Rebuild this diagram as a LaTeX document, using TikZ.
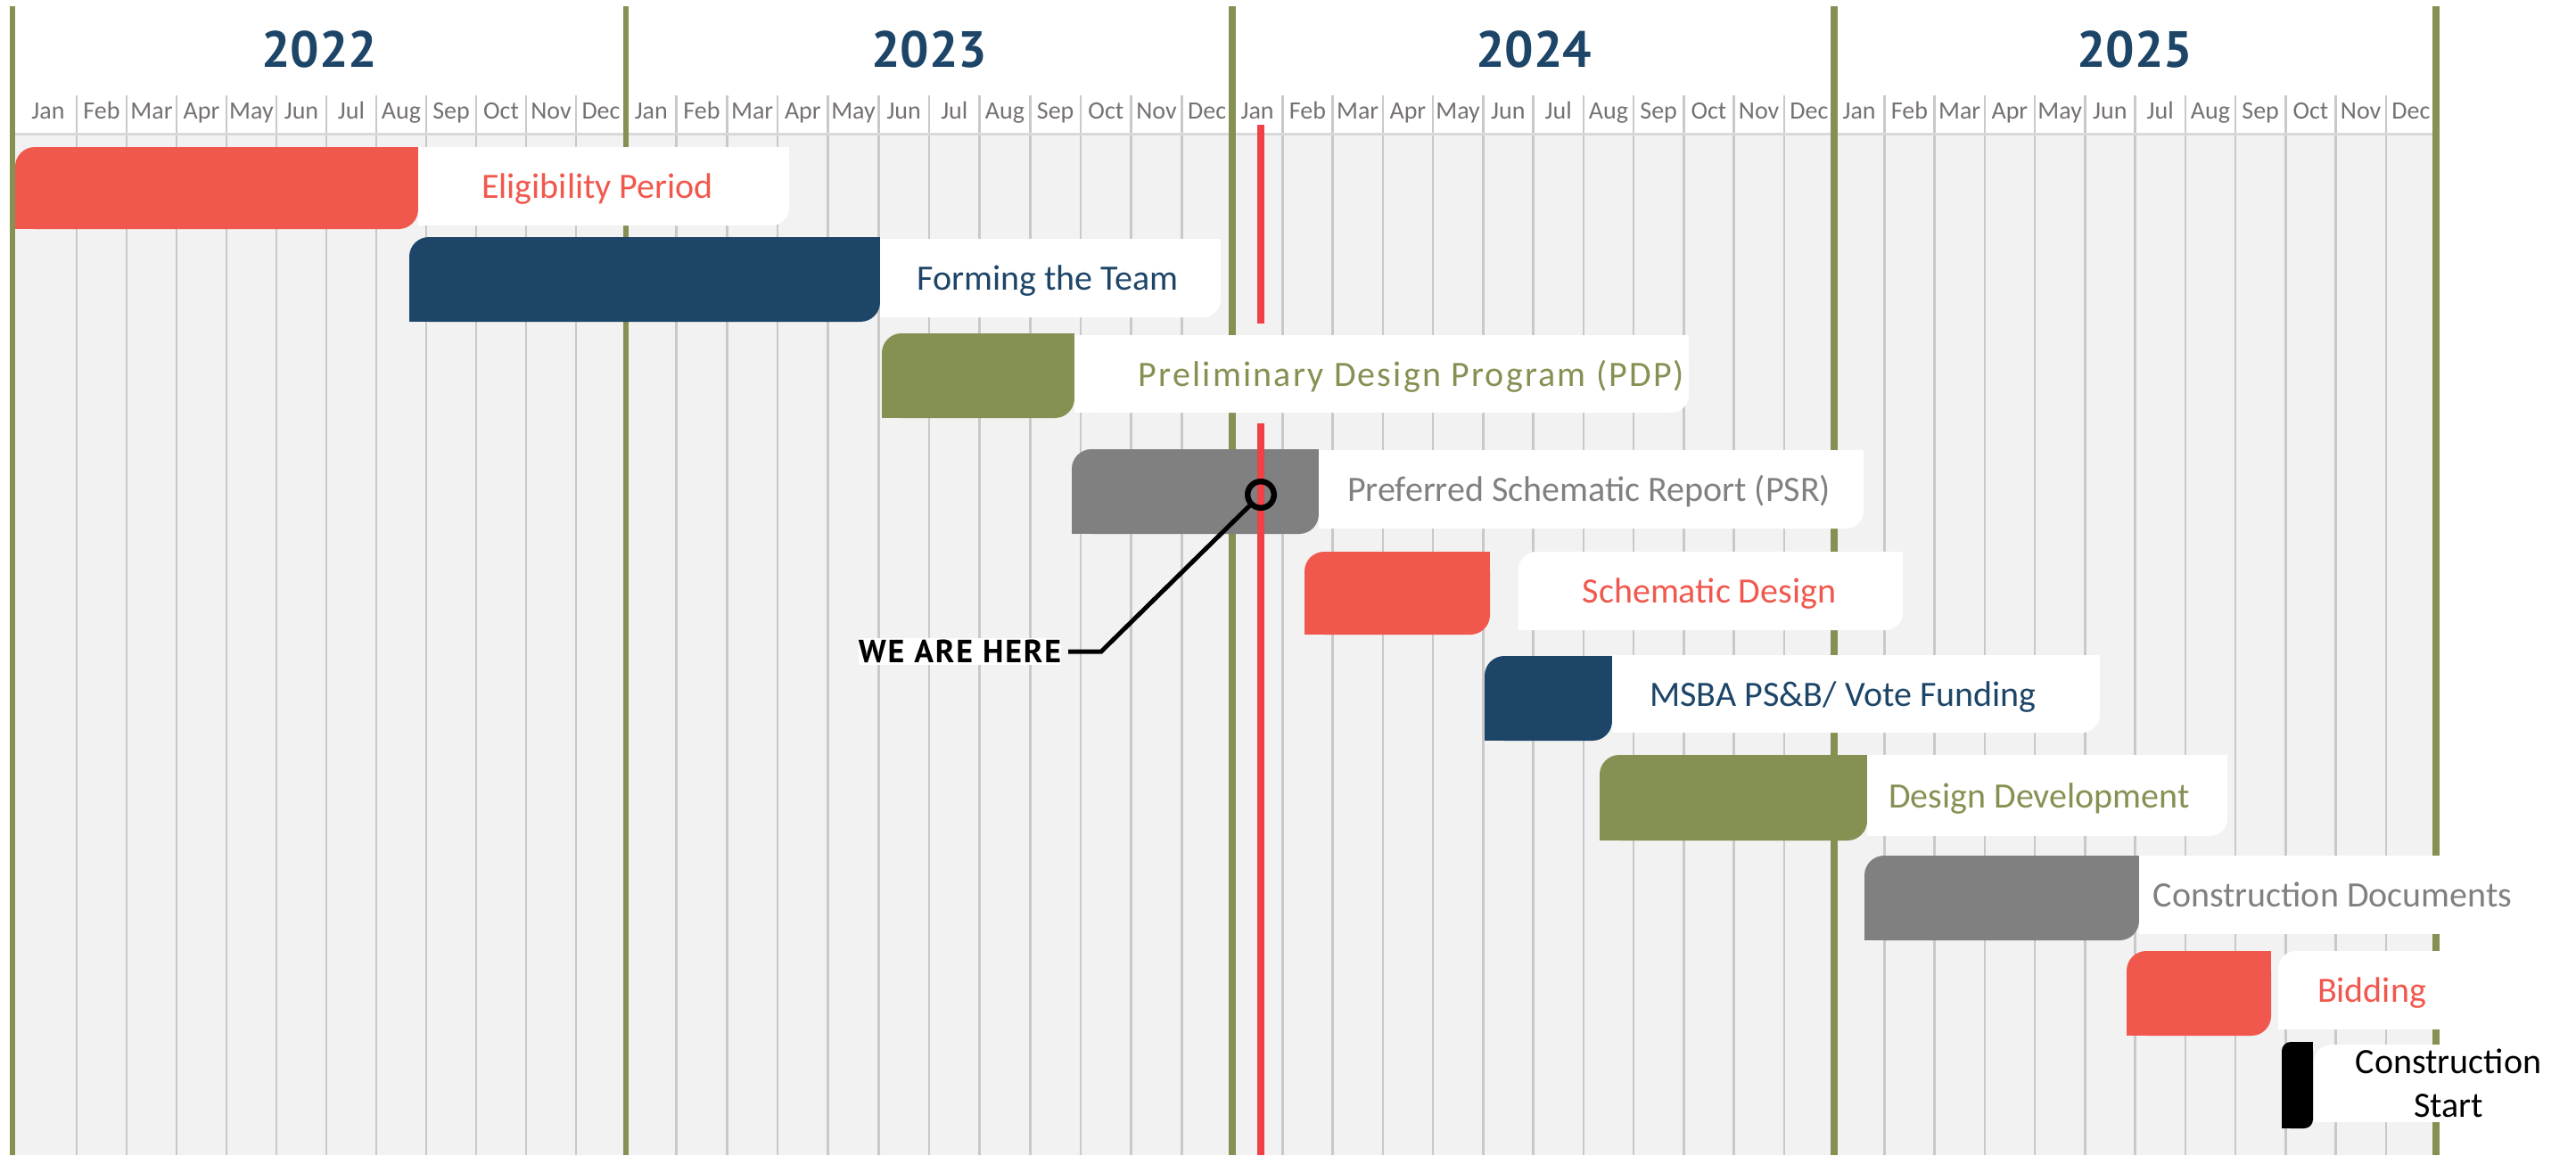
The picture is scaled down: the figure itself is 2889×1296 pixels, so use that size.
\documentclass[tikz,border=0pt]{standalone}
\usepackage{fontspec}
\setmainfont{Carlito}
\newfontfamily\spacedfont[LetterSpace=5.5]{Carlito}
\newfontfamily\yearfont{PT Sans}
\newfontfamily\herefont[LetterSpace=5]{PT Sans}
\definecolor{coral}{HTML}{F1584D}
\definecolor{navy}{HTML}{1D4568}
\definecolor{olive}{HTML}{849152}
\definecolor{midgrey}{HTML}{808080}
\definecolor{bggrey}{HTML}{F2F2F2}
\definecolor{gridgrey}{HTML}{C9C9C9}
\definecolor{hdrline}{HTML}{D9D9D9}
\definecolor{monthgrey}{HTML}{767171}
\definecolor{nowred}{HTML}{EF4246}
% leaf shapes: rounded rectangle with some corners squared off again
\newcommand\leafTLBR[6]{%
  \fill[#1,rounded corners=#6] (#2,#3) rectangle (#4,#5);
  \fill[#1] (#4,#3) rectangle ++(-#6,-#6);
  \fill[#1] (#2,#5) rectangle ++(#6,#6);}
\newcommand\leafBR[6]{%
  \fill[#1,rounded corners=#6] (#2,#3) rectangle (#4,#5);
  \fill[#1] (#2,#3) rectangle ++(#6,-#6);
  \fill[#1] (#4,#3) rectangle ++(-#6,-#6);
  \fill[#1] (#2,#5) rectangle ++(#6,#6);}
\newcommand\leafTL[6]{%
  \fill[#1,rounded corners=#6] (#2,#3) rectangle (#4,#5);
  \fill[#1] (#4,#3) rectangle ++(-#6,-#6);
  \fill[#1] (#4,#5) rectangle ++(-#6,#6);
  \fill[#1] (#2,#5) rectangle ++(#6,#6);}
\begin{document}
\begin{tikzpicture}[x=0.25pt,y=-0.25pt,
  monthlbl/.style={anchor=base, inner sep=0pt, text=monthgrey, font=\fontsize{7}{8}\selectfont},
  yearlbl/.style={anchor=base, inner sep=0pt, text=navy, font=\yearfont\bfseries\fontsize{14.3}{16}\selectfont},
  tasklbl/.style={anchor=base, inner sep=0pt, font=\fontsize{10}{12.25}\selectfont},
  gridline/.style={draw=gridgrey, line width=0.625pt},
  yearline/.style={draw=olive, line width=2pt},
  thinyearline/.style={draw=olive, line width=1.4pt}]
\useasboundingbox (0,0) rectangle (2889,1296);
\fill[white] (0,0) rectangle (2889,1296);
% body background
\fill[bggrey] (14,150) rectangle (2732,1296);
% month grid lines
\foreach \k in {1,...,11} \draw[gridline] ({702-\k*56},107) -- ({702-\k*56},1296);
\foreach \s/\e in {702/1382,1382/2057,2057/2732}
  \foreach \k in {1,...,11} \draw[gridline] ({\s+\k*(\e-\s)/12},107) -- ({\s+\k*(\e-\s)/12},1296);
% header line
\draw[hdrline, line width=0.75pt] (14,150) -- (2732,150);
% year lines
\draw[thinyearline] (14,7) -- (14,1296);
\draw[thinyearline] (702,7) -- (702,1296);
\draw[yearline] (1382,7) -- (1382,1296);
\draw[yearline] (2057,7) -- (2057,1296);
\draw[yearline] (2732,7) -- (2732,1296);
% year labels
\node[yearlbl] (y2022) at (358,75) {2022};
\node[yearlbl] (y2023) at (1042,75) {2023};
\node[yearlbl] (y2024) at (1720,75) {2024};
\node[yearlbl] (y2025) at (2394,75) {2025};
% month labels
\node[monthlbl] (m22-0) at (54,133) {Jan};
\foreach \m [count=\i from 1] in {Feb,Mar,Apr,May,Jun,Jul,Aug,Sep,Oct,Nov,Dec}
  \node[monthlbl] (m22-\i) at ({702-(11.5-\i)*56},133) {\m};
\foreach \s/\e/\yy in {702/1382/23,1382/2057/24,2057/2732/25}
  \foreach \m [count=\i from 0] in {Jan,Feb,Mar,Apr,May,Jun,Jul,Aug,Sep,Oct,Nov,Dec}
    \node[monthlbl] (m\yy-\i) at ({\s+(\i+0.5)*(\e-\s)/12},133) {\m};
% bars and label boxes
\leafTLBR{coral}{17}{165}{469}{257}{5.5pt}
\leafBR{white}{469}{165}{885}{253}{5pt}
\leafTLBR{navy}{459}{266}{987}{361}{5.5pt}
\leafBR{white}{987}{268}{1369}{356}{5pt}
\leafTLBR{olive}{989}{374}{1205}{469}{5.5pt}
\leafBR{white}{1205}{376}{1894}{463}{5pt}
\leafTLBR{midgrey}{1202}{504}{1479}{599}{5.5pt}
\leafBR{white}{1479}{505}{2090}{593}{5pt}
\leafTLBR{coral}{1463}{619}{1671}{712}{5.5pt}
\leafTLBR{white}{1703}{619}{2134}{707}{5pt}
\leafTLBR{navy}{1665}{736}{1808}{831}{5.5pt}
\leafBR{white}{1808}{735}{2355}{822}{5pt}
\leafTLBR{olive}{1794}{847}{2094}{943}{5.5pt}
\leafBR{white}{2094}{847}{2498}{938}{5pt}
\leafTLBR{midgrey}{2091}{960}{2399}{1055}{5.5pt}
\fill[white] (2399,960) rectangle (2736,1048);
\leafTLBR{coral}{2385}{1067}{2547}{1162}{5.5pt}
\leafTL{white}{2555}{1067}{2736}{1155}{5pt}
\leafTLBR{black}{2559}{1169}{2594}{1266}{2.5pt}
\leafTL{white}{2595}{1172}{2736}{1259}{5pt}
% today line
\draw[nowred, line width=2.1pt] (1414,140) -- (1414,363);
\draw[nowred, line width=2.1pt] (1414,475) -- (1414,1296);
% task labels
\node[tasklbl, text=coral] (t1) at (670,222) {Eligibility Period};
\node[tasklbl, text=navy] (t2) at (1175,325) {Forming the Team};
\node[tasklbl, text=olive, font=\spacedfont\fontsize{10}{12.25}\selectfont] (t3) at (1583,433) {Preliminary Design Program (PDP)};
\node[tasklbl, text=midgrey] (t4) at (1782,562) {Preferred Schematic Report (PSR)};
\node[tasklbl, text=coral] (t5) at (1917,676) {Schematic Design};
\node[tasklbl, text=navy] (t6) at (2067,792) {MSBA PS\&B/ Vote Funding};
\node[tasklbl, text=olive] (t7) at (2287,906) {Design Development};
\node[tasklbl, text=midgrey] (t8) at (2616,1017) {Construction Documents};
\node[tasklbl, text=coral] (t9) at (2660,1124) {Bidding};
\node[tasklbl, text=black, align=center] (t10) at (2746,1253) {Construction\\Start};
% we are here marker
\node[draw=black, line width=1.6pt, circle, minimum size=7.4pt, inner sep=0pt] (here) at (1414,555) {};
\node[anchor=east, fill=white, inner xsep=0pt, inner ysep=0.6pt, text depth=0pt,
      font=\herefont\bfseries\fontsize{9}{10}\selectfont] (weare) at (1191,731) {WE ARE HERE};
\coordinate (bend) at (1235,731);
\coordinate (lineend) at (1198,731);
\draw[black, line width=1.25pt] (here) -- (bend) -- (lineend);
\end{tikzpicture}
\end{document}
